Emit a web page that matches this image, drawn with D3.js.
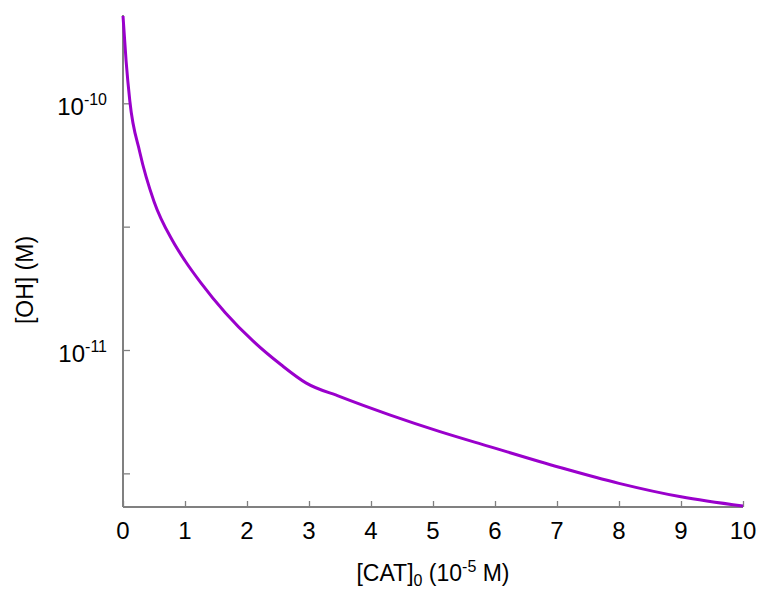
<!DOCTYPE html>
<html><head><meta charset="utf-8">
<script src="https://cdn.jsdelivr.net/npm/d3@7"></script>
<style>body{margin:0;background:#fff}svg{display:block}text{font-family:"Liberation Sans",Arial,sans-serif;fill:#000}</style>
</head><body><svg id="c" width="760" height="589"></svg>
<script>
const catConc = [0, 0.05, 0.11, 0.27, 0.5, 0.8, 1, 1.25, 1.65, 2.1, 2.55, 2.95, 3.5, 4.3, 5.1, 5.9, 7.05, 8, 9, 10];
const ohConc = [2.259e-10, 1.484e-10, 1.022e-10, 6.35e-11, 4.00e-11, 2.77e-11, 2.30e-11, 1.88e-11, 1.416e-11, 1.086e-11, 8.71e-12, 7.36e-12, 6.47e-12, 5.46e-12, 4.68e-12, 4.07e-12, 3.34e-12, 2.88e-12, 2.54e-12, 2.33e-12];
const xTicks = [0,1,2,3,4,5,6,7,8,9,10];
const yMajor = [-10, -11];
const yMinor = [-10.5, -11.5];

const svg = d3.select("#c");
const L = 123, R = 743, T = 15, B = 507;
const x = d3.scaleLinear().domain([0, 10]).range([L, R]);
const y = d3.scaleLog().domain([2.31e-12, 2.28e-10]).range([B, T]);
const axisColor = "#808080";

// x axis ticks
const xa = svg.append("g").attr("transform", `translate(0,${B})`)
  .call(d3.axisBottom(x).tickValues(xTicks).tickSize(-6).tickPadding(0).tickFormat(""));
xa.select(".domain").remove();
xa.selectAll("line").attr("stroke", axisColor).attr("stroke-width", 1.3);
svg.append("line").attr("x1", L).attr("x2", R).attr("y1", B).attr("y2", B).attr("stroke", axisColor).attr("stroke-width", 2);
svg.append("line").attr("x1", L).attr("x2", L).attr("y1", T).attr("y2", B).attr("stroke", axisColor).attr("stroke-width", 2);

xTicks.forEach(t => {
  svg.append("text").attr("x", x(t)).attr("y", 539).attr("text-anchor", "middle").attr("font-size", 24).text(t);
});

// y ticks
const ya = svg.append("g").attr("transform", `translate(${L},0)`)
  .call(d3.axisLeft(y).tickValues(yMajor.concat(yMinor).map(e => Math.pow(10, e))).tickSize(-7).tickFormat(""));
ya.select(".domain").remove();
ya.selectAll("line").attr("stroke", axisColor).attr("stroke-width", 1.3);

yMajor.forEach(e => {
  const t = svg.append("text").attr("x", 107).attr("y", y(Math.pow(10, e)) + 12).attr("text-anchor", "end").attr("font-size", 24);
  t.append("tspan").text("10");
  t.append("tspan").attr("font-size", 16).attr("dy", -10).text(String(e));
});

// line
const line = d3.line().x((d, i) => x(catConc[i])).y(d => y(d)).curve(d3.curveMonotoneX);
svg.append("path").datum(ohConc).attr("d", line).attr("fill", "none")
  .attr("stroke", "#9a00cc").attr("stroke-width", 3).attr("stroke-linejoin", "round");

// axis titles
const xt = svg.append("text").attr("x", (L + R) / 2).attr("y", 581).attr("text-anchor", "middle").attr("font-size", 23);
xt.append("tspan").text("[CAT]");
xt.append("tspan").attr("font-size", 16).attr("dy", 5).text("0");
xt.append("tspan").attr("dy", -5).text(" (10");
xt.append("tspan").attr("font-size", 16).attr("dy", -9).text("-5");
xt.append("tspan").attr("dy", 9).text(" M)");

svg.append("text").attr("transform", "translate(33,280) rotate(-90)").attr("text-anchor", "middle").attr("font-size", 23).text("[OH] (M)");
</script></body></html>
